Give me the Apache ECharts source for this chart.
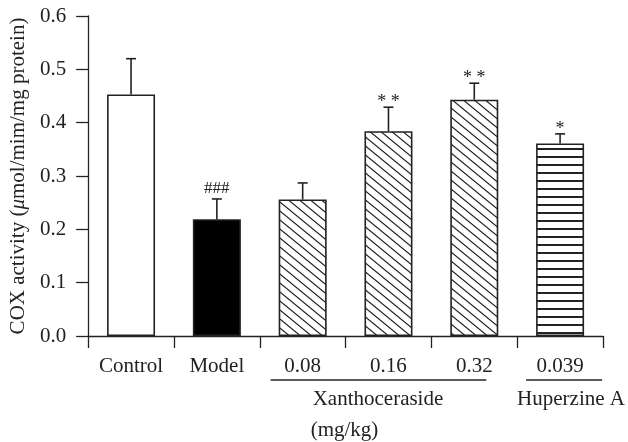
<!DOCTYPE html>
<html>
<head>
<meta charset="utf-8">
<script src="https://cdn.jsdelivr.net/npm/echarts@6/dist/echarts.min.js"></script>
<style>html,body{margin:0;padding:0;background:#fff}#c{width:628px;height:442px}</style>
</head>
<body>
<div id="c"></div>
<script>
// ---- data ----
const categories = ['Control', 'Model', '0.08', '0.16', '0.32', '0.039'];
const means = [0.453, 0.219, 0.256, 0.384, 0.443, 0.361];
const errTops = [0.520, 0.257, 0.287, 0.429, 0.474, 0.379];
const sigLabels = ['', '###', '', '* *', '* *', '*'];
const yTicks = [0, 0.1, 0.2, 0.3, 0.4, 0.5, 0.6];
const groupLabels = ['Xanthoceraside', '(mg/kg)', 'Huperzine A'];

const INK = '#222';
const FONT = 'Liberation Serif';

function diagPattern() {
  const w = 11, h = 9;
  const c = document.createElement('canvas');
  c.width = w; c.height = h;
  const g = c.getContext('2d');
  g.fillStyle = '#fff'; g.fillRect(0, 0, w, h);
  g.strokeStyle = INK; g.lineWidth = 1.2;
  for (const dx of [-w, 0, w]) {
    g.beginPath();
    g.moveTo(dx - w, -h); g.lineTo(dx + 2 * w, 2 * h);
    g.stroke();
  }
  return { image: c, repeat: 'repeat' };
}
function horizPattern() {
  const w = 8, h = 8;
  const c = document.createElement('canvas');
  c.width = w; c.height = h;
  const g = c.getContext('2d');
  g.fillStyle = '#fff'; g.fillRect(0, 0, w, h);
  g.fillStyle = INK; g.fillRect(0, 4, w, 2);
  return { image: c, repeat: 'repeat' };
}
const diag = diagPattern();
const horiz = horizPattern();
const fills = ['#fff', '#000', diag, diag, diag, horiz];

const chart = echarts.init(document.getElementById('c'), null, { renderer: 'canvas' });

const option = {
  animation: false,
  backgroundColor: '#fff',
  grid: { left: 87, right: 25, top: 16, bottom: 106 },
  xAxis: {
    type: 'category',
    data: categories,
    boundaryGap: true,
    axisLine: { lineStyle: { color: INK, width: 1.3 } },
    axisTick: { show: true, length: 12, lineStyle: { color: INK, width: 1.3 } },
    axisLabel: { color: INK, fontFamily: FONT, fontSize: 21, margin: 20 }
  },
  yAxis: {
    type: 'value',
    min: 0, max: 0.6, interval: 0.1,
    name: '{a|COX activity (}{i|μ}{a|mol/mim/mg protein)}',
    nameLocation: 'middle',
    nameGap: 57,
    nameRotate: 90,
    nameTextStyle: {
      rich: {
        a: { fontFamily: FONT, fontSize: 21, color: INK },
        i: { fontFamily: FONT, fontSize: 21, color: INK, fontStyle: 'italic' }
      }
    },
    splitLine: { show: false },
    axisLine: { show: true, lineStyle: { color: INK, width: 1.3 } },
    axisTick: { show: true, length: 12, lineStyle: { color: INK, width: 1.3 } },
    axisLabel: {
      color: INK, fontFamily: FONT, fontSize: 21, margin: 22,
      formatter: v => v.toFixed(1)
    }
  },
  series: [
    {
      type: 'bar',
      barWidth: 48,
      data: means.map((v, i) => ({
        value: v,
        itemStyle: { color: fills[i], borderColor: INK, borderWidth: 1.6 }
      }))
    },
    {
      type: 'custom',
      z: 5,
      data: means.map((v, i) => [i, v, errTops[i], sigLabels[i]]),
      renderItem: function (params, api) {
        const i = api.value(0);
        const p0 = api.coord([i, api.value(1)]);
        const p1 = api.coord([i, api.value(2)]);
        const lab = sigLabels[i];
        const children = [
          { type: 'line', shape: { x1: p0[0], y1: p0[1], x2: p1[0], y2: p1[1] }, style: { stroke: INK, lineWidth: 1.6 } },
          { type: 'line', shape: { x1: p1[0] - 5, y1: p1[1], x2: p1[0] + 5, y2: p1[1] }, style: { stroke: INK, lineWidth: 1.6 } }
        ];
        if (lab) {
          const isHash = lab.indexOf('#') >= 0;
          children.push({
            type: 'text',
            style: {
              text: lab, x: p1[0], y: p1[1] + (isHash ? -2 : 4),
              align: 'center', verticalAlign: 'bottom',
              fontFamily: FONT, fontSize: isHash ? 17 : 18, fill: INK
            }
          });
        }
        return { type: 'group', children: children };
      }
    }
  ]
};
chart.setOption(option);

// group annotations positioned from the category axis
const cx = name => chart.convertToPixel({ xAxisIndex: 0 }, name);
const y0 = chart.convertToPixel({ yAxisIndex: 0 }, 0);
const txt = (text, x, y) => ({
  type: 'text', x: x, y: y,
  style: { text: text, fontFamily: FONT, fontSize: 21, fill: INK, align: 'left', verticalAlign: 'middle' }
});
const ln = (x1, x2, y) => ({
  type: 'line', shape: { x1: x1, y1: y, x2: x2, y2: y }, style: { stroke: INK, lineWidth: 1.3 }
});
chart.setOption({
  graphic: [
    ln(cx('0.08') - 32, cx('0.32') + 12, y0 + 44),
    ln(cx('0.039') - 34, cx('0.039') + 42, y0 + 44),
    txt(groupLabels[0], cx('0.08') + 10, y0 + 63),
    txt(groupLabels[1], cx('0.08') + 8, y0 + 94),
    txt(groupLabels[2], cx('0.039') - 43, y0 + 63)
  ]
});
</script>
</body>
</html>
